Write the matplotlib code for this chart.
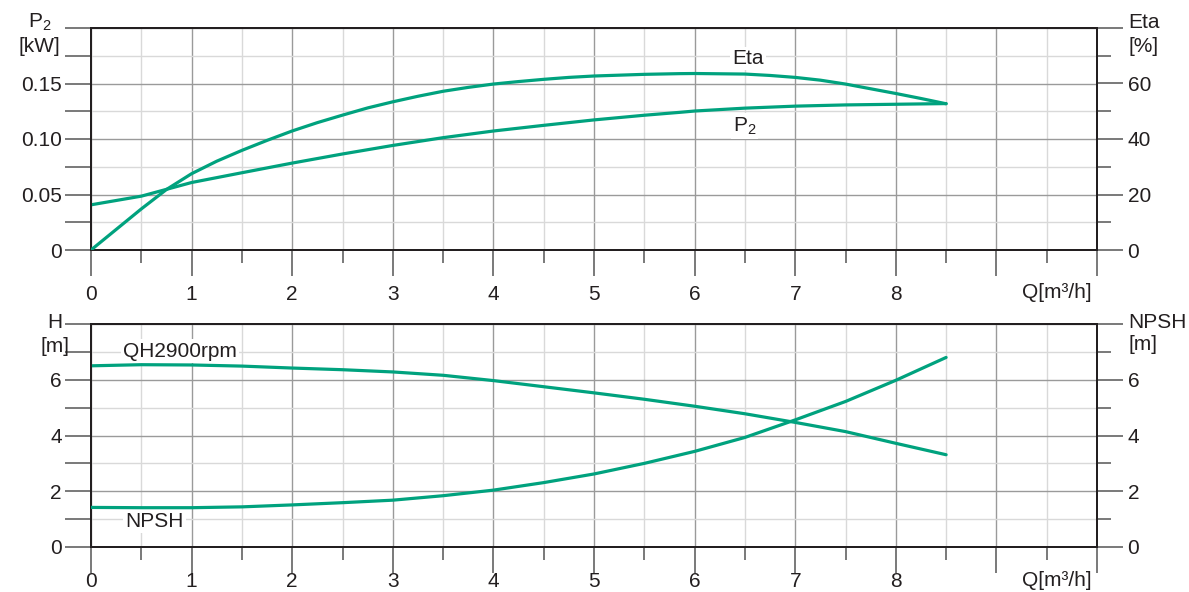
import matplotlib
matplotlib.use("Agg")
import matplotlib.pyplot as plt
from matplotlib.ticker import MultipleLocator

plt.rcParams["font.family"] = ["Liberation Sans", "DejaVu Sans"]
plt.rcParams["mathtext.fontset"] = "custom"
plt.rcParams["mathtext.rm"] = "Liberation Sans"
plt.rcParams["mathtext.it"] = "Liberation Sans"

# values
q_eta = [0, 0.25, 0.5, 0.75, 1, 1.25, 1.5, 1.75, 2, 2.25, 2.5, 2.75, 3,
         3.25, 3.5, 3.75, 4, 4.25, 4.5, 4.75, 5, 5.25, 5.5, 5.85, 6, 6.5,
         6.75, 7, 7.25, 7.5, 7.75, 8, 8.25, 8.5]
eta = [0, 7.4, 14.8, 21.8, 27.5, 32.0, 35.9, 39.5, 42.9, 45.9, 48.6, 51.2, 53.4,
       55.4, 57.2, 58.6, 59.8, 60.7, 61.5, 62.2, 62.7, 63.0, 63.3, 63.55, 63.6, 63.4,
       62.9, 62.2, 61.2, 59.8, 58.1, 56.4, 54.6, 52.7]

q_p2 = [0, 0.5, 1, 1.5, 2, 2.5, 3, 3.5, 4, 4.5, 5, 5.5, 5.85, 6, 6.5, 7, 7.5, 8, 8.5]
p2 = [0.0407, 0.0485, 0.0608, 0.0696, 0.0783, 0.0865, 0.0942, 0.1012, 0.1072,
      0.1123, 0.1172, 0.1214, 0.1240, 0.1252, 0.1278, 0.1296, 0.1307, 0.1313, 0.1319]

q_h = [0, 0.5, 1, 1.5, 2, 2.5, 3, 3.5, 4, 4.5, 5, 5.5, 6, 6.5, 7, 7.5, 8, 8.5]
head = [6.50, 6.54, 6.53, 6.49, 6.42, 6.36, 6.28, 6.16, 5.97, 5.75, 5.53, 5.30,
        5.05, 4.78, 4.47, 4.14, 3.72, 3.31]
npsh = [1.42, 1.41, 1.41, 1.44, 1.51, 1.59, 1.68, 1.84, 2.04, 2.31, 2.62, 3.00,
        3.43, 3.93, 4.56, 5.22, 5.98, 6.80]

x_labels = ["0", "1", "2", "3", "4", "5", "6", "7", "8", "", ""]
p2_ticks = [0, 0.05, 0.10, 0.15, 0.20]
p2_labels = ["0", "0.05", "0.10", "0.15", ""]
eta_ticks = [0, 20, 40, 60, 80]
eta_labels = ["0", "20", "40", "60", ""]
h_ticks = [0, 2, 4, 6, 8]
h_labels = ["0", "2", "4", "6", ""]

GREEN = "#00a27e"
W, H = 1189, 592
FS = 15


def px(x, y):
    return x / W, 1 - y / H


def style_axes(ax, ax2, ymax, ymin_step, ticks, labels, rticks, rlabels, rmin_step, xpad):
    ax.set_xlim(0, 10)
    ax.set_ylim(0, ymax)
    ax2.set_ylim(0, rticks[-1])
    ax.set_xticks(range(11))
    ax.set_xticklabels(x_labels)
    ax.xaxis.set_minor_locator(MultipleLocator(0.5))
    ax.set_yticks(ticks)
    ax.set_yticklabels(labels)
    ax.yaxis.set_minor_locator(MultipleLocator(ymin_step))
    ax2.set_yticks(rticks)
    ax2.set_yticklabels(rlabels)
    ax2.yaxis.set_minor_locator(MultipleLocator(rmin_step))
    ax.tick_params(axis="x", which="major", length=19, width=1.1, color="#555555",
                   labelsize=FS, pad=xpad, labelcolor="#231f20")
    ax.tick_params(axis="x", which="minor", length=9, width=1.1, color="#555555")
    ax.tick_params(axis="y", which="both", length=19, width=1.1, color="#555555",
                   labelsize=FS, pad=2, labelcolor="#231f20")
    ax2.tick_params(axis="y", which="major", length=19, width=1.1, color="#555555",
                    labelsize=FS, pad=3, labelcolor="#231f20")
    ax2.tick_params(axis="y", which="minor", length=10, width=1.1, color="#555555")
    ax.grid(True, which="major", color="#9a9a9a", lw=1.0)
    ax.grid(True, which="minor", color="#d9d9d9", lw=1.0)
    ax.set_axisbelow(True)
    for a in (ax, ax2):
        for s in a.spines.values():
            s.set_color("#231f20")
            s.set_linewidth(1.4)


fig = plt.figure(figsize=(W / 100, H / 100), dpi=100)
ax_top = fig.add_axes([91 / W, (H - 250) / H, 1006 / W, 222 / H])
ax_top_r = ax_top.twinx()
ax_bot = fig.add_axes([91 / W, (H - 547) / H, 1006 / W, 223 / H])
ax_bot_r = ax_bot.twinx()

style_axes(ax_top, ax_top_r, 0.2, 0.025, p2_ticks, p2_labels,
           eta_ticks, eta_labels, 10, 6)
style_axes(ax_bot, ax_bot_r, 8, 1, h_ticks, h_labels,
           h_ticks, h_labels, 1, -1)

ax_top.plot(q_p2, p2, color=GREEN, lw=2.3, solid_capstyle="round", zorder=3)
ax_top_r.plot(q_eta, eta, color=GREEN, lw=2.3, solid_capstyle="round", zorder=3)
ax_bot.plot(q_h, head, color=GREEN, lw=2.3, solid_capstyle="round", zorder=3)
ax_bot_r.plot(q_h, npsh, color=GREEN, lw=2.3, solid_capstyle="round", zorder=3)

box = dict(facecolor="white", edgecolor="none", pad=1.5)
ax_top.text(6.53, 0.1728, "Eta", fontsize=FS, ha="center", va="center",
            color="#231f20", bbox=box, zorder=4)
ax_top.text(6.38, 0.1116, "P$_2$", fontsize=FS, ha="left", va="center",
            color="#231f20", bbox=box, zorder=4)
ax_bot.text(0.32, 7.03, "QH2900rpm", fontsize=FS, ha="left", va="center",
            color="#231f20", bbox=box, zorder=4)
ax_bot.text(0.34, 0.93, "NPSH", fontsize=FS, ha="left", va="center",
            color="#231f20", bbox=box, zorder=4)

# axis titles around the panels
for x, y, s, ha in [(40, 22, "P$_2$", "center"), (39, 47, "[kW]", "center"),
                    (55, 322, "H", "center"), (55, 347, "[m]", "center"),
                    (1128, 22, "Eta", "left"), (1128, 47, "[%]", "left"),
                    (1128, 322, "NPSH", "left"), (1128, 345, "[m]", "left"),
                    (1057, 292, "Q[m³/h]", "center"), (1057, 580, "Q[m³/h]", "center")]:
    fx, fy = px(x, y)
    fig.text(fx, fy, s, fontsize=FS, ha=ha, va="center", color="#231f20")

fig.savefig("out.png", dpi=100)
